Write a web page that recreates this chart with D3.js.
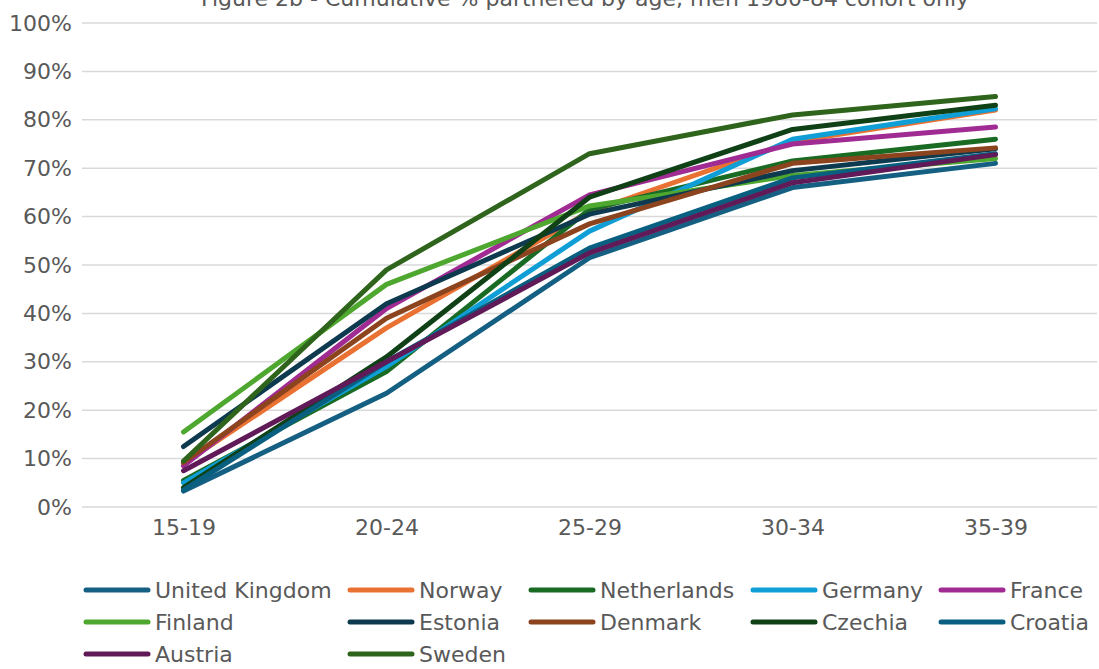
<!DOCTYPE html>
<html>
<head>
<meta charset="utf-8">
<script src="https://cdn.jsdelivr.net/npm/d3@7"></script>
<style>
  html, body { margin: 0; padding: 0; background: #fff; }
  svg { display: block; font-family: "DejaVu Sans", sans-serif; }
</style>
</head>
<body>
<svg id="chart" width="1099" height="669"></svg>
<script>
// Age groups on the x axis
const ageGroups = ["15-19", "20-24", "25-29", "30-34", "35-39"];

// Cumulative % partnered by age, men born 1980-84
const unitedKingdom = [3.3, 23.5, 51.5, 66.0, 71.0];
const norway        = [9.0, 37.0, 61.0, 75.5, 82.0];
const netherlands   = [5.5, 28.0, 61.5, 71.5, 76.0];
const germany       = [5.0, 29.0, 57.0, 76.0, 82.3];
const france        = [8.5, 41.0, 64.5, 75.0, 78.5];
const finland       = [15.5, 46.0, 62.2, 68.5, 72.0];
const estonia       = [12.5, 42.0, 60.5, 69.5, 74.0];
const denmark       = [9.2, 39.0, 58.5, 71.0, 74.2];
const czechia       = [4.0, 31.0, 64.0, 78.0, 83.0];
const croatia       = [3.5, 30.0, 53.5, 68.0, 73.0];
const austria       = [7.5, 30.0, 52.5, 67.0, 72.8];
const sweden        = [9.5, 49.0, 73.0, 81.0, 84.8];

const seriesNames = ["United Kingdom", "Norway", "Netherlands", "Germany", "France",
                     "Finland", "Estonia", "Denmark", "Czechia", "Croatia", "Austria", "Sweden"];
const seriesValues = [unitedKingdom, norway, netherlands, germany, france,
                      finland, estonia, denmark, czechia, croatia, austria, sweden];
const seriesColors = ["#156082", "#E97132", "#196B24", "#0F9ED5", "#A02B93", "#4EA72E",
                      "#0D3A4E", "#8C441E", "#0F4016", "#095F80", "#601A58", "#2F641C"];

const yTicks = [0, 10, 20, 30, 40, 50, 60, 70, 80, 90, 100];
const title = "Figure 2b - Cumulative % partnered by age, men 1980-84 cohort only";

const svg = d3.select("#chart");
const textColor = "#595959";
const gridColor = "#d9d9d9";

const plot = { left: 82, right: 1097, top: 23, bottom: 507 };

const x = d3.scalePoint()
  .domain(ageGroups)
  .range([plot.left, plot.right])
  .padding(0.5);

const y = d3.scaleLinear()
  .domain([0, 100])
  .range([plot.bottom, plot.top]);

// Title (sits at the very top edge of the canvas)
svg.append("text")
  .attr("x", 585)
  .attr("y", 6)
  .attr("text-anchor", "middle")
  .attr("fill", textColor)
  .style("font-size", "22px")
  .text(title);

// Horizontal gridlines
svg.append("g")
  .selectAll("line")
  .data(yTicks)
  .join("line")
  .attr("x1", plot.left)
  .attr("x2", plot.right)
  .attr("y1", d => y(d))
  .attr("y2", d => y(d))
  .attr("stroke", gridColor)
  .attr("stroke-width", 1.5);

// Y axis labels
const yAxis = d3.axisLeft(y)
  .tickValues(yTicks)
  .tickFormat(d => d + "%")
  .tickSize(0)
  .tickPadding(10);

svg.append("g")
  .attr("transform", `translate(${plot.left},0)`)
  .call(yAxis)
  .call(g => g.select(".domain").remove())
  .call(g => g.selectAll("text")
    .attr("fill", textColor)
    .style("font-size", "22px")
    .style("font-family", "DejaVu Sans, sans-serif"));

// X axis labels
const xAxis = d3.axisBottom(x)
  .tickSize(0)
  .tickPadding(12);

svg.append("g")
  .attr("transform", `translate(0,${plot.bottom})`)
  .call(xAxis)
  .call(g => g.select(".domain").remove())
  .call(g => g.selectAll("text")
    .attr("fill", textColor)
    .style("font-size", "22px")
    .style("font-family", "DejaVu Sans, sans-serif"));

// Lines
const line = d3.line()
  .x((d, i) => x(ageGroups[i]))
  .y(d => y(d));

svg.append("g")
  .selectAll("path")
  .data(seriesValues)
  .join("path")
  .attr("d", d => line(d))
  .attr("fill", "none")
  .attr("stroke", (d, i) => seriesColors[i])
  .attr("stroke-width", 5)
  .attr("stroke-linejoin", "round")
  .attr("stroke-linecap", "round");

// Legend: 5 columns, rows filled left to right
const legendCols = 5;
const rowY = [590, 622, 654];
const colX = [86, 350, 531, 753, 941];
const swatchLen = 62;
const swatchGap = 7;

const legend = svg.append("g");
seriesNames.forEach((name, i) => {
  const g = legend.append("g")
    .attr("transform", `translate(${colX[i % legendCols]},${rowY[Math.floor(i / legendCols)]})`);
  g.append("line")
    .attr("x1", 0).attr("x2", swatchLen)
    .attr("y1", 0).attr("y2", 0)
    .attr("stroke", seriesColors[i])
    .attr("stroke-width", 5)
    .attr("stroke-linecap", "round");
  g.append("text")
    .attr("x", swatchLen + swatchGap)
    .attr("y", 0)
    .attr("dy", "0.35em")
    .attr("fill", textColor)
    .style("font-size", "22px")
    .text(name);
});
</script>
</body>
</html>
